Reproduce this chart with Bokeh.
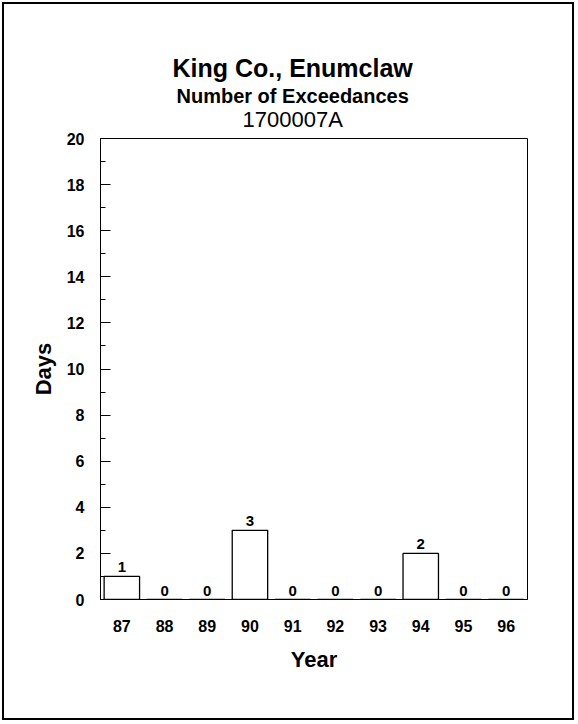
from bokeh.plotting import figure
from bokeh.models import (ColumnDataSource, FactorRange, Range1d,
                          SingleIntervalTicker, LabelSet, Title)
from bokeh.core.properties import value
from bokeh.embed import file_html
from bokeh.resources import INLINE

# ---- data ----
years = ["87", "88", "89", "90", "91", "92", "93", "94", "95", "96"]
days = [1, 0, 0, 3, 0, 0, 0, 2, 0, 0]
title_text = "King Co., Enumclaw"
subtitle_text = "Number of Exceedances"
site_text = "1700007A"
x_label = "Year"
y_label = "Days"
y_min, y_max, y_step = 0, 20, 2

FONT = "Liberation Sans"

source = ColumnDataSource(dict(year=years, days=days,
                               label=[str(d) for d in days]))

p = figure(width=572, height=718,
           x_range=FactorRange(*years, range_padding=0),
           y_range=Range1d(y_min, y_max),
           output_backend="svg", toolbar_location=None,
           min_border_left=96, min_border_right=49,
           min_border_top=134, min_border_bottom=123)
p.margin = (2, 0, 0, 2)
p.styles = {"border": "2px solid black"}

p.background_fill_color = "white"
p.border_fill_color = "white"
p.outline_line_color = "black"
p.outline_line_width = 1
p.grid.visible = False

p.vbar(x="year", top="days", width=0.83, source=source,
       fill_color="white", line_color="black", line_width=1.3)

labels = LabelSet(x="year", y="days", text="label", source=source,
                  y_offset=4, text_align="center", text_baseline="alphabetic",
                  text_font=value(FONT), text_font_size="15px",
                  text_font_style="bold", text_color="black")
p.add_layout(labels)

# y axis
yax = p.yaxis[0]
yax.ticker = SingleIntervalTicker(interval=y_step, num_minor_ticks=2)
yax.major_tick_in = 10
yax.major_tick_out = 0
yax.minor_tick_in = 5
yax.minor_tick_out = 0
yax.major_tick_line_color = "black"
yax.minor_tick_line_color = "black"
yax.axis_line_color = "black"
yax.major_label_text_font = FONT
yax.major_label_text_font_size = "16px"
yax.major_label_text_font_style = "bold"
yax.major_label_text_color = "black"
yax.major_label_standoff = 16
yax.axis_label = y_label
yax.axis_label_text_font = FONT
yax.axis_label_text_font_size = "22px"
yax.axis_label_text_font_style = "bold"
yax.axis_label_text_color = "black"
yax.axis_label_standoff = 8

# x axis
xax = p.xaxis[0]
xax.major_tick_in = 0
xax.major_tick_out = 0
xax.axis_line_color = "black"
xax.major_label_text_font = FONT
xax.major_label_text_font_size = "16px"
xax.major_label_text_font_style = "bold"
xax.major_label_text_color = "black"
xax.major_label_standoff = 20
xax.axis_label = x_label
xax.axis_label_text_font = FONT
xax.axis_label_text_font_size = "22px"
xax.axis_label_text_font_style = "bold"
xax.axis_label_text_color = "black"
xax.axis_label_standoff = 12

# titles: first added sits closest to the plot frame
for txt, size, style, stand, off in [(site_text, "22px", "normal", 14, 142),
                                     (subtitle_text, "20px", "bold", -18, 76),
                                     (title_text, "25px", "bold", 20, 72)]:
    p.add_layout(Title(text=txt, align="left", offset=off,
                       text_font=FONT, text_font_size=size,
                       text_font_style=style, text_color="black",
                       standoff=stand), "above")

open("out.html", "w").write(file_html(p, INLINE))
